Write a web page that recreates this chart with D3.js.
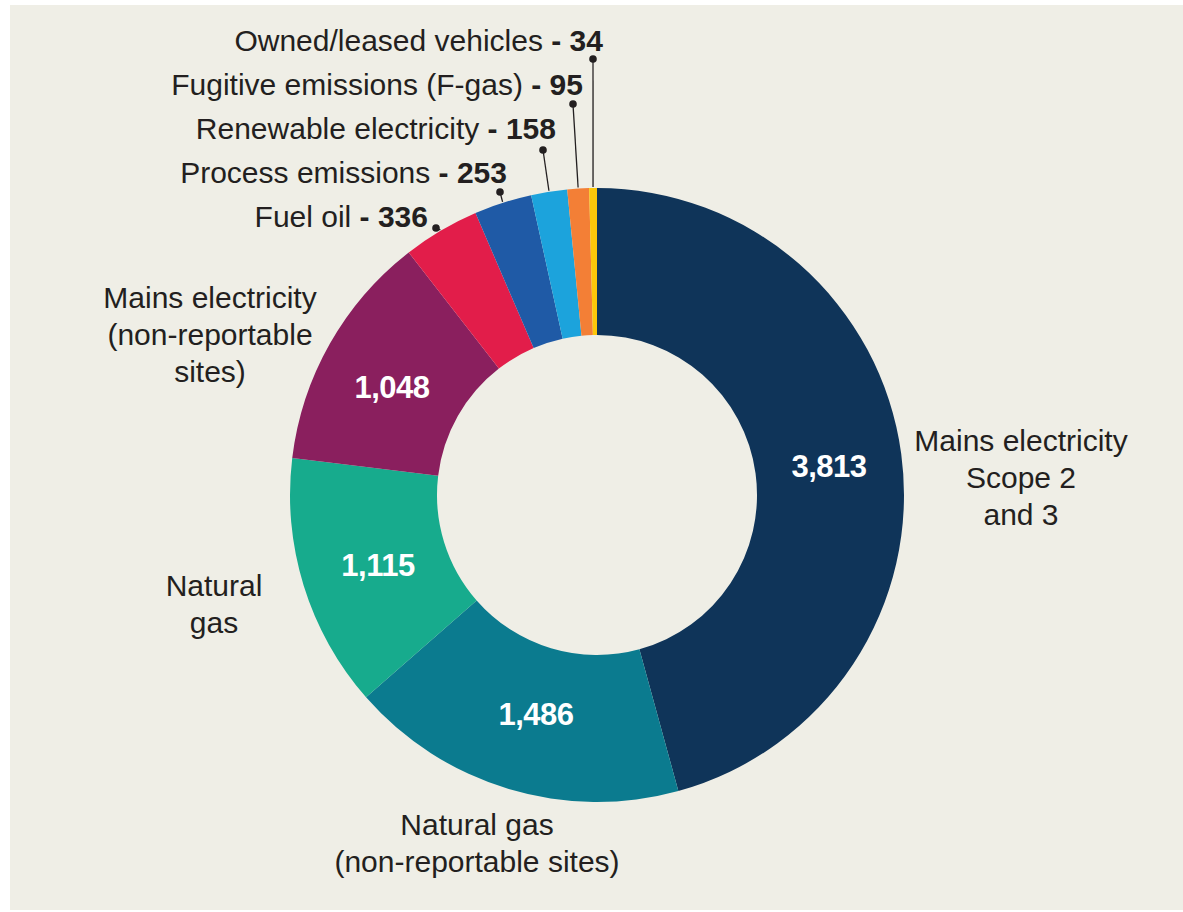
<!DOCTYPE html>
<html>
<head>
<meta charset="utf-8">
<script src="https://cdn.jsdelivr.net/npm/d3@7"></script>
<style>
  html, body { margin: 0; padding: 0; background: #fff; }
  svg { display: block; }
  svg text { font-family: "Liberation Sans", Arial, sans-serif; }
</style>
</head>
<body>
<div id="chart"></div>
<script>
const categories = [
  "Mains electricity Scope 2 and 3",
  "Natural gas (non-reportable sites)",
  "Natural gas",
  "Mains electricity (non-reportable sites)",
  "Fuel oil",
  "Process emissions",
  "Renewable electricity",
  "Fugitive emissions (F-gas)",
  "Owned/leased vehicles"
];
const values = [3813, 1486, 1115, 1048, 336, 253, 158, 95, 34];
const colors = ["#0f3459", "#0b7b8f", "#17ab8d", "#8a1f5e", "#e21d4a", "#1f5aa6", "#1ca3dc", "#f37f36", "#fcc70a"];

const width = 1183, height = 912;
const cx = 597, cy = 495, outerR = 307, innerR = 160;

const svg = d3.select("#chart")
    .append("svg")
    .attr("width", width)
    .attr("height", height);

// beige panel, thin white edge top/left/bottom
svg.append("rect")
    .attr("x", 10).attr("y", 5)
    .attr("width", width - 10).attr("height", height - 7)
    .attr("fill", "#efeee6");

const g = svg.append("g")
    .attr("transform", "translate(" + cx + "," + cy + ")");

const pie = d3.pie().sort(null).value(d => d.value);
const arc = d3.arc().innerRadius(innerR).outerRadius(outerR);

const data = categories.map((c, i) => ({name: c, value: values[i], color: colors[i]}));
const arcs = pie(data);

g.selectAll("path")
    .data(arcs)
    .enter()
    .append("path")
    .attr("d", arc)
    .attr("fill", d => d.data.color);

// value labels inside the four big slices
const fmt = d3.format(",");
const inside = [
  {i: 0, x: 232, y: -29},
  {i: 1, x: -61, y: 219},
  {i: 2, x: -219, y: 70},
  {i: 3, x: -205, y: -108}
];
g.selectAll(".val")
    .data(inside)
    .enter()
    .append("text")
    .attr("x", d => d.x)
    .attr("y", d => d.y)
    .attr("dy", "0.36em")
    .attr("text-anchor", "middle")
    .attr("fill", "#fff")
    .attr("font-weight", "bold")
    .attr("font-size", 31)
    .attr("letter-spacing", -0.5)
    .text(d => fmt(values[d.i]));

// category names for the big slices
const bigLabels = [
  {lines: ["Mains electricity", "Scope 2", "and 3"], x: 1021, y: 440},
  {lines: ["Natural gas", "(non-reportable sites)"], x: 477, y: 824},
  {lines: ["Natural", "gas"], x: 214, y: 585},
  {lines: ["Mains electricity", "(non-reportable", "sites)"], x: 210, y: 297}
];
bigLabels.forEach(b => {
  const t = svg.append("text")
      .attr("text-anchor", "middle")
      .attr("font-size", 30)
      .attr("fill", "#231f20");
  b.lines.forEach((l, k) => {
    t.append("tspan")
        .attr("x", b.x)
        .attr("y", b.y + k * 37)
        .attr("dy", "0.36em")
        .text(l);
  });
});

// small slices: label + leader line with dot
const small = [
  {i: 4, tx: 428, ty: 216, dx: 436, dy: 228},
  {i: 5, tx: 507, ty: 172, dx: 500, dy: 192},
  {i: 6, tx: 556, ty: 128, dx: 543, dy: 150},
  {i: 7, tx: 583, ty: 84, dx: 573, dy: 104},
  {i: 8, tx: 603, ty: 40, dx: 593, dy: 59}
];
const shortNames = ["", "", "", "", "Fuel oil", "Process emissions", "Renewable electricity", "Fugitive emissions (F-gas)", "Owned/leased vehicles"];

small.forEach(s => {
  const a = arcs[s.i];
  const mid = (a.startAngle + a.endAngle) / 2;
  const px = cx + Math.sin(mid) * (outerR + 1);
  const py = cy - Math.cos(mid) * (outerR + 1);
  svg.append("line")
      .attr("x1", s.dx).attr("y1", s.dy)
      .attr("x2", px).attr("y2", py)
      .attr("stroke", "#231f20")
      .attr("stroke-width", 1.3);
  svg.append("circle")
      .attr("cx", s.dx).attr("cy", s.dy)
      .attr("r", 3.8)
      .attr("fill", "#231f20");
  const t = svg.append("text")
      .attr("x", s.tx).attr("y", s.ty)
      .attr("dy", "0.36em")
      .attr("text-anchor", "end")
      .attr("font-size", 30)
      .attr("fill", "#231f20");
  t.append("tspan").text(shortNames[s.i] + " ");
  t.append("tspan").attr("font-weight", "bold").text("- " + fmt(values[s.i]));
});
</script>
</body>
</html>
